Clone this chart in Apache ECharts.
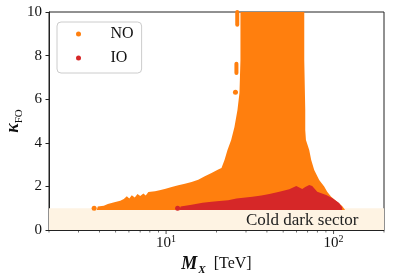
<!DOCTYPE html>
<html><head><meta charset="utf-8">
<script src="https://cdn.jsdelivr.net/npm/echarts@6/dist/echarts.min.js"></script>
<style>html,body{margin:0;padding:0;background:#fff}#c{width:394px;height:280px}</style>
</head><body><div id="c"></div>
<script>
// ---- data ----
const xRange = [2, 200];
const yRange = [0, 10];
const yTicks = [0, 2, 4, 6, 8, 10];
const xMajorTicks = [10, 100];
const xMinorTicks = [2, 3, 4, 5, 6, 7, 8, 9, 20, 30, 40, 50, 60, 70, 80, 90, 200];

// NO (normal ordering) region: outline of the dense cloud (M_X in TeV, kappa_FO)
const noX = [3.86, 3.91, 4.25, 4.49, 4.91, 5.33, 5.59, 5.83, 6.03, 6.24, 6.50, 6.75, 7.01, 7.32, 7.56, 7.84, 8.59, 9.28, 9.94, 10.8, 11.83, 12.95, 14.2, 15.56, 17.03, 18.68, 20.47, 21.42, 22.33, 23.26, 24.47, 25.6, 26.68, 27.42, 27.8, 27.8, 66.83, 66.83, 67.74, 67.74, 68.39, 71.54, 73.53, 76.63, 82.07, 87.88, 91.58, 96.74, 105.0, 112.5, 117.2];
const noTop = [0.92, 1.08, 1.11, 1.19, 1.27, 1.34, 1.42, 1.55, 1.44, 1.59, 1.49, 1.65, 1.56, 1.68, 1.58, 1.74, 1.78, 1.83, 1.89, 1.97, 2.05, 2.12, 2.20, 2.31, 2.46, 2.61, 2.77, 2.84, 3.21, 3.67, 4.13, 4.72, 5.50, 6.28, 7.80, 10.0, 10.0, 7.80, 5.50, 4.59, 4.13, 3.67, 3.21, 2.75, 2.29, 1.99, 1.76, 1.53, 1.30, 1.10, 0.92];
const noFloor = 0.92;
const noDots = [[3.72, 1.0], [25.95, 6.32]];
const noStreaks = [[[26.6, 10.0], [26.6, 9.42]], [[26.3, 7.63], [26.3, 7.20]]];

// IO (inverted ordering) region
const ioX = [12.04, 12.2, 14.2, 16.51, 18.68, 20.84, 23.48, 26.31, 32.76, 37.07, 41.36, 47.43, 54.39, 59.87, 65.01, 67.74, 71.54, 74.56, 79.87, 90.33, 98.07, 107.9, 112.5, 112.5];
const ioTop = [0.92, 1.08, 1.16, 1.25, 1.30, 1.33, 1.37, 1.45, 1.53, 1.58, 1.65, 1.76, 1.87, 2.02, 1.88, 1.97, 2.06, 2.02, 1.76, 1.61, 1.47, 1.24, 1.04, 0.92];
const ioFloor = 0.92;
const ioDots = [[11.72, 1.0]];

// shaded band
const bandY = [0, 1];
const bandText = 'Cold dark sector';
const bandTextAt = [30, 0.44];

const seriesNames = ['NO', 'IO'];
const colNO = '#ff7f0e', colIO = '#d62728';
const FONT = '"Liberation Serif", "DejaVu Serif", serif';
const ink = '#111';

// ---- build ----
function outline(xs, tops, floor) {
  const pts = xs.map((x, i) => [x, tops[i]]);
  pts.push([xs[xs.length - 1], floor]);
  pts.push([xs[0], floor]);
  return pts;
}
const noPoly = outline(noX, noTop, noFloor);
const ioPoly = outline(ioX, ioTop, ioFloor);

function polySeries(name, pts, color, z) {
  return {
    type: 'custom', name: name, z: z, silent: true,
    itemStyle: { color: color },
    encode: { x: 0, y: 1 },
    data: pts,
    renderItem: function (params, api) {
      if (params.dataIndex !== 0) return;
      return {
        type: 'polygon',
        shape: { points: pts.map(p => api.coord(p)) },
        style: { fill: color, stroke: null }
      };
    }
  };
}

function isPow10(v) { const l = Math.log10(v); return Math.abs(l - Math.round(l)) < 1e-6; }

const chart = echarts.init(document.getElementById('c'), null, { renderer: 'canvas' });
const series = [];
// band
series.push({
  type: 'custom', z: 1, silent: true,
  data: [[xRange[0], bandY[0]]],
  encode: { x: 0, y: 1 },
  renderItem: function (params, api) {
    const a = api.coord([xRange[0], bandY[0]]);
    const b = api.coord([xRange[1], bandY[1]]);
    return { type: 'rect', shape: { x: a[0], y: b[1], width: b[0] - a[0], height: a[1] - b[1] }, style: { fill: '#fef3e3' } };
  }
});
series.push(polySeries(seriesNames[0], noPoly, colNO, 2));
series.push({
  type: 'scatter', name: seriesNames[0], z: 2, silent: true, symbolSize: 5,
  itemStyle: { color: colNO, opacity: 1 }, data: noDots
});
noStreaks.forEach(s => series.push({
  type: 'line', name: seriesNames[0], z: 2, silent: true, symbol: 'none',
  lineStyle: { color: colNO, width: 4, cap: 'round' }, data: s
}));
series.push(polySeries(seriesNames[1], ioPoly, colIO, 3));
series.push({
  type: 'scatter', name: seriesNames[1], z: 3, silent: true, symbolSize: 5,
  itemStyle: { color: colIO, opacity: 1 }, data: ioDots
});
// band label
series.push({
  type: 'custom', z: 4, silent: true,
  data: [bandTextAt], encode: { x: 0, y: 1 },
  renderItem: function (params, api) {
    const p = api.coord(bandTextAt);
    return { type: 'text', x: p[0], y: p[1],
             style: { text: bandText, fill: '#222', font: '17px ' + FONT, textAlign: 'left', textVerticalAlign: 'middle' } };
  }
});
// x ticks (log axis: majors and minors)
series.push({
  type: 'scatter', z: 5, silent: true, clip: false, symbol: 'rect', symbolSize: [1, 3.5], symbolOffset: [0, 2.2],
  itemStyle: { color: '#222' }, data: xMajorTicks.map(v => [v, yRange[0]])
});
series.push({
  type: 'scatter', z: 5, silent: true, clip: false, symbol: 'rect', symbolSize: [0.8, 2], symbolOffset: [0, 1.5],
  itemStyle: { color: '#222' }, data: xMinorTicks.map(v => [v, yRange[0]])
});

chart.setOption({
  animation: false,
  backgroundColor: '#fff',
  grid: { left: 49, right: 10, top: 12, bottom: 50, outerBoundsMode: 'none', containLabel: false,
          show: true, borderColor: '#222', borderWidth: 1, backgroundColor: 'transparent' },
  legend: {
    left: 57, top: 22, orient: 'vertical',
    padding: [4, 8, 7, 19],
    itemWidth: 10, itemHeight: 5, itemGap: 8,
    backgroundColor: 'rgba(255,255,255,0.8)', borderColor: '#cccccc', borderWidth: 1, borderRadius: 4,
    textStyle: { fontFamily: FONT, fontSize: 16, lineHeight: 16, color: ink, padding: [0, 0, 0, 22] },
    data: [
      { name: seriesNames[0], icon: 'circle', itemStyle: { color: colNO } },
      { name: seriesNames[1], icon: 'circle', itemStyle: { color: colIO } }
    ]
  },
  xAxis: {
    type: 'log', logBase: 10, min: xRange[0], max: xRange[1],
    axisLine: { show: true, lineStyle: { color: '#222', width: 1 } },
    axisTick: { show: false },
    splitLine: { show: false },
    axisLabel: {
      margin: 4, showMinLabel: true, showMaxLabel: true,
      formatter: v => isPow10(v) && v > 5 ? '{b|10}{p|' + Math.round(Math.log10(v)) + '}' : '',
      rich: {
        b: { fontFamily: FONT, fontSize: 15, lineHeight: 18, color: ink },
        p: { fontFamily: FONT, fontSize: 10, lineHeight: 10, verticalAlign: 'top', color: ink }
      }
    },
    name: '{m|M}{s|X}{n| [TeV]}', nameLocation: 'middle', nameGap: 22, nameMoveOverlap: false,
    nameTextStyle: {
      rich: {
        m: { fontFamily: FONT, fontSize: 18, fontWeight: 'bold', fontStyle: 'italic', lineHeight: 24, color: ink },
        s: { fontFamily: FONT, fontSize: 11, fontWeight: 'bold', fontStyle: 'italic', lineHeight: 11, verticalAlign: 'bottom', color: ink, padding: [0, 4, 0, 1] },
        n: { fontFamily: FONT, fontSize: 16, lineHeight: 24, color: ink }
      }
    }
  },
  yAxis: {
    type: 'value', min: yRange[0], max: yRange[1], interval: 2,
    axisLine: { show: true, lineStyle: { color: '#222', width: 1 } },
    axisTick: { show: true, inside: false, length: 3.5, lineStyle: { color: '#222' } },
    splitLine: { show: false },
    axisLabel: { margin: 7, fontFamily: FONT, fontSize: 15, color: ink,
                 formatter: v => yTicks.indexOf(v) >= 0 ? String(v) : '' },
    name: '{k|κ}{s|FO}', nameLocation: 'middle', nameRotate: 90, nameGap: 24, nameMoveOverlap: false,
    nameTextStyle: {
      rich: {
        k: { fontFamily: FONT, fontSize: 18, fontWeight: 'bold', fontStyle: 'italic', lineHeight: 24, color: ink },
        s: { fontFamily: FONT, fontSize: 11, lineHeight: 11, verticalAlign: 'bottom', color: ink }
      }
    }
  },
  series: series
});
</script></body></html>
